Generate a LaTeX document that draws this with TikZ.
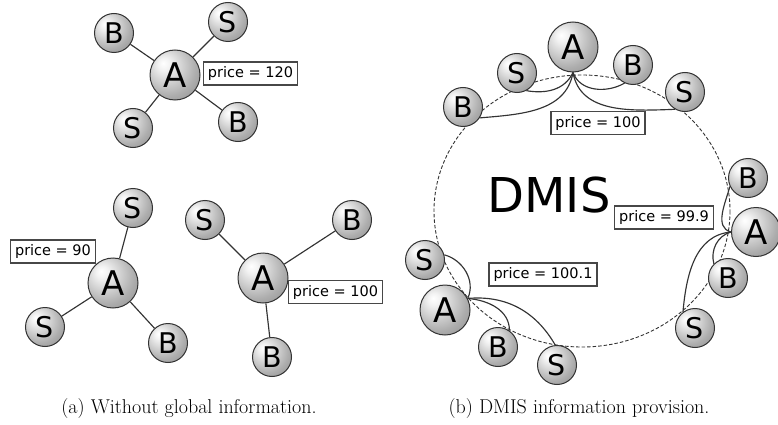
\documentclass[tikz,border=0pt]{standalone}
\usepackage{fontspec}
\newfontfamily\dvs{DejaVu Sans}
\usetikzlibrary{shapes.geometric}

% soft grey orb used for every agent
\pgfdeclareradialshading{orb}{\pgfpoint{-12bp}{12bp}}{%
  color(0bp)=(white); color(6bp)=(white!95!black); color(28bp)=(white!68!black);
  color(48bp)=(white!50!black); color(72bp)=(white!38!black)}

\begin{document}
\begin{tikzpicture}[x=1pt,y=-1pt,
  agent/.style={circle, draw=black!80, line width=1pt, shading=orb, inner sep=0pt},
  small/.style={agent, minimum size=39pt, font=\dvs\fontsize{28.5}{28.5}\selectfont},
  big/.style={agent, minimum size=50pt, font=\dvs\fontsize{34}{34}\selectfont},
  price/.style={draw=black!72, line width=1.6pt, fill=white, inner xsep=4.5pt,
    inner ysep=0pt, minimum height=23pt, font=\dvs\fontsize{14.5}{14.5}\selectfont},
  link/.style={draw=black!80, line width=1.15pt},
  market/.style={draw=black!80, line width=0.9pt, dash pattern=on 3.5pt off 2pt},
  capt/.style={font=\fontsize{20}{24}\selectfont, anchor=base}
]
\useasboundingbox (0,0) rectangle (778,425);

% ---------- (a) isolated markets ----------
\node[big]   (a1)   at (175,75)  {A};
\node[small] (a1b1) at (114,33)  {B};
\node[small] (a1s1) at (228,22)  {S};
\node[small] (a1s2) at (133,128) {S};
\node[small] (a1b2) at (238,122) {B};
\foreach \n in {a1b1,a1s1,a1s2,a1b2} \draw[link] (a1) -- (\n);
\node[price] (p1) at (250.5,73.5) {price = 120};

\node[big]   (a2)   at (113,283) {A};
\node[small] (a2s1) at (133,208) {S};
\node[small] (a2s2) at (45,327)  {S};
\node[small] (a2b1) at (168,343) {B};
\foreach \n in {a2s1,a2s2,a2b1} \draw[link] (a2) -- (\n);
\node[price] (p2) at (53,251.5) {price = 90};

\node[big]   (a3)   at (263,278) {A};
\node[small] (a3s1) at (205,220) {S};
\node[small] (a3b1) at (352,220) {B};
\node[small] (a3b2) at (272,357) {B};
\foreach \n in {a3s1,a3b1,a3b2} \draw[link] (a3) -- (\n);
\node[price] (p3) at (335.5,292) {price = 100};

% ---------- (b) markets linked through DMIS ----------
\draw[market] (582,211) ellipse [x radius=148, y radius=136];
\node[font=\dvs\fontsize{48}{48}\selectfont, inner sep=0pt] (dmis) at (549,195) {DMIS};

% top market
\node[big]   (bt)   at (573,47)  {A};
\node[small] (bts1) at (517,73)  {S};
\node[small] (btb1) at (463,107) {B};
\node[small] (btb2) at (633,65)  {B};
\node[small] (bts2) at (685,92)  {S};
\draw[link] (bt.south) to[out=-115,in=-10] (bts1.-62);
\draw[link] (bt.south) to[out=-100,in=5]   (btb1.-33);
\draw[link] (bt.south) to[out=-70,in=-150] (btb2.-115);
\draw[link] (bt.south) to[out=-80,in=182]  (bts2.-120);
\node[price] (pt) at (598,123) {price = 100};

% right market
\node[small] (brb1) at (748,178) {B};
\node[agent, minimum size=49pt, font=\dvs\fontsize{34}{34}\selectfont] (br) at (756,232) {A};
\node[small] (brb2) at (728,278) {B};
\node[small] (brs1) at (695,328) {S};
\draw[link] (br.west) to[out=165,in=-105] (brb1.-155);
\draw[link] (br.west) to[out=195,in=105]  (brb2.135);
\draw[link] (br.west) to[out=185,in=85]   (brs1.127);
\node[price] (pr) at (664,217.5) {price = 99.9};

% left market
\node[small] (bls1) at (425,260) {S};
\node[big]   (bl)   at (445,310) {A};
\node[small] (blb1) at (498,347) {B};
\node[small] (bls2) at (557,365) {S};
\draw[link] (bl.27) to[out=65,in=-15]  (bls1.15);
\draw[link] (bl.27) to[out=-5,in=90]   (blb1.55);
\draw[link] (bl.27) to[out=5,in=120]   (bls2.95);
\node[price] (pl) at (543,274.5) {price = 100.1};

% ---------- captions ----------
\node[capt] (ca) at (189,413) {(a) Without global information.};
\node[capt] (cb) at (579,413) {(b) DMIS information provision.};
\end{tikzpicture}
\end{document}
